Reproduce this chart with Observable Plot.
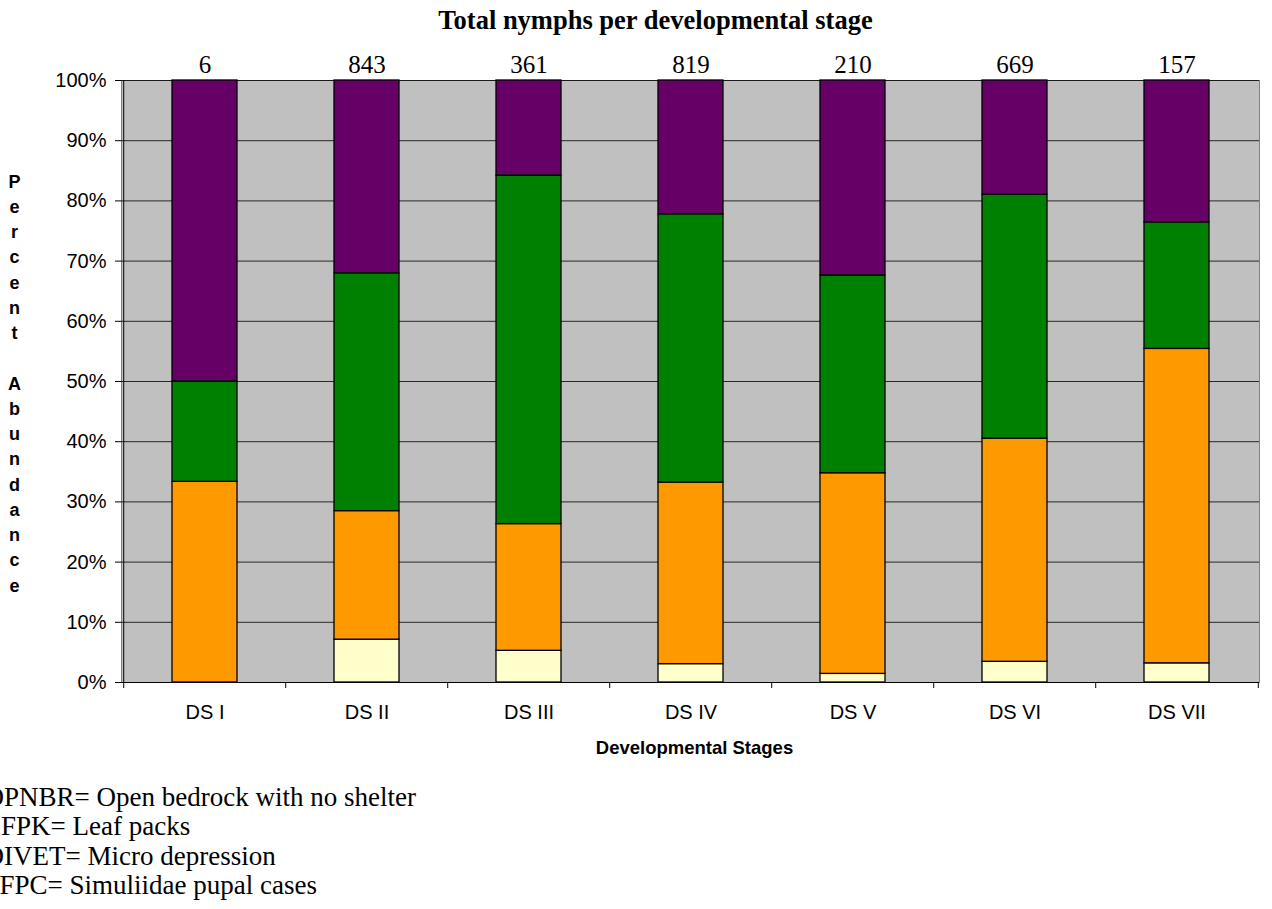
<!DOCTYPE html>
<html>
<head>
<meta charset="utf-8">
<script src="https://cdn.jsdelivr.net/npm/d3@7"></script>
<script src="https://cdn.jsdelivr.net/npm/@observablehq/plot@0.6"></script>
<style>
  html, body { margin: 0; padding: 0; background: #fff; }
  #chart svg { display: block; }
</style>
</head>
<body>
<div id="chart"></div>
<script>
// Developmental stages along the x axis
const stages = ["DS I", "DS II", "DS III", "DS IV", "DS V", "DS VI", "DS VII"];

// Habitat series, stacked bottom to top, with their fills
const habitats = ["SFPC", "DIVET", "LFPK", "OPNBR"];
const habitatColors = ["#FFFFCC", "#FF9900", "#008000", "#660066"];

// Nymph counts per stage for each habitat
const sfpc  = [0, 60, 19, 25, 3, 23, 5];
const divet = [2, 180, 76, 247, 70, 248, 82];
const lfpk  = [1, 333, 209, 365, 69, 271, 33];
const opnbr = [3, 270, 57, 182, 68, 127, 37];

// Percent axis ticks
const yTicks = [0, 0.1, 0.2, 0.3, 0.4, 0.5, 0.6, 0.7, 0.8, 0.9, 1];

// Texts
const title = "Total nymphs per developmental stage";
const xTitle = "Developmental Stages";
const yTitle = "Percent Abundance";
const legendLines = [
  "OPNBR= Open bedrock with no shelter",
  "LFPK= Leaf packs",
  "DIVET= Micro depression",
  "SFPC= Simuliidae pupal cases"
];

const counts = {SFPC: sfpc, DIVET: divet, LFPK: lfpk, OPNBR: opnbr};
const rows = stages.flatMap((stage, i) =>
  habitats.map((habitat) => ({stage, habitat, count: counts[habitat][i]}))
);
const totals = stages.map((stage, i) => ({
  stage,
  total: d3.sum(habitats, (h) => counts[h][i])
}));

const W = 1272, H = 909;
const mL = 121, mR = 13, mT = 80, mB = 227;
const step = (W - mL - mR) / stages.length;

const serif = "'Liberation Serif', 'Times New Roman', serif";
const sans = "'Liberation Sans', Arial, sans-serif";

const chart = Plot.plot({
  width: W,
  height: H,
  marginLeft: mL,
  marginRight: mR,
  marginTop: mT,
  marginBottom: mB,
  style: {fontFamily: sans, color: "#000", background: "#fff"},
  x: {domain: stages, paddingInner: 0.6, paddingOuter: 0.3, label: null},
  y: {domain: [0, 1], label: null},
  color: {domain: habitats, range: habitatColors},
  marks: [
    Plot.frame({fill: "#C0C0C0", stroke: "#808080"}),
    Plot.gridY(yTicks, {stroke: "#000", strokeOpacity: 0.8, strokeWidth: 1}),
    Plot.barY(rows.filter((d) => d.count > 0), {
      x: "stage",
      y: "count",
      fill: "habitat",
      order: habitats,
      offset: "normalize",
      stroke: "#000",
      strokeWidth: 1.3
    }),
    // axis lines
    Plot.ruleY([0], {stroke: "#000"}),
    Plot.ruleX([stages[0]], {dx: -step / 2, stroke: "#000"}),
    // category boundary ticks below the axis
    Plot.ruleX(stages, {x: (d) => d, y1: 0, y2: 0, dx: -step / 2, insetBottom: -6, stroke: "#000"}),
    Plot.ruleX([stages[stages.length - 1]], {x: (d) => d, y1: 0, y2: 0, dx: step / 2, insetBottom: -6, stroke: "#000"}),
    Plot.axisY(yTicks, {
      tickFormat: d3.format(".0%"),
      tickSize: 6,
      tickPadding: 9,
      fontSize: 20,
      fontFamily: sans,
      label: null
    }),
    Plot.axisX({tickSize: 0, tickPadding: 22, fontSize: 20, fontFamily: sans, label: null}),
    // totals above each bar
    Plot.text(totals, {
      x: "stage",
      y: () => 1,
      text: (d) => String(d.total),
      dy: -16,
      fontFamily: serif,
      fontSize: 25
    }),
    // title
    Plot.text([title], {
      frameAnchor: "top",
      lineAnchor: "middle",
      dx: -35,
      dy: -60,
      fontFamily: serif,
      fontWeight: "bold",
      fontSize: 26.5
    }),
    // x axis title
    Plot.text([xTitle], {
      frameAnchor: "bottom",
      lineAnchor: "middle",
      dx: 4,
      dy: 66,
      fontFamily: sans,
      fontWeight: "bold",
      fontSize: 18.5
    }),
    // stacked y axis title
    Plot.text([yTitle.split("").join("\n")], {
      frameAnchor: "left",
      dx: -107,
      dy: 0,
      textAnchor: "middle",
      lineAnchor: "middle",
      lineHeight: 25.25 / 18,
      fontFamily: sans,
      fontWeight: "bold",
      fontSize: 18
    }),
    // habitat code notes
    Plot.text([legendLines.join("\n")], {
      frameAnchor: "bottom-left",
      dx: -137,
      dy: 158,
      textAnchor: "start",
      lineAnchor: "middle",
      lineHeight: 29.5 / 27,
      fontFamily: serif,
      fontSize: 27
    })
  ]
});

document.getElementById("chart").appendChild(chart);
</script>
</body>
</html>
